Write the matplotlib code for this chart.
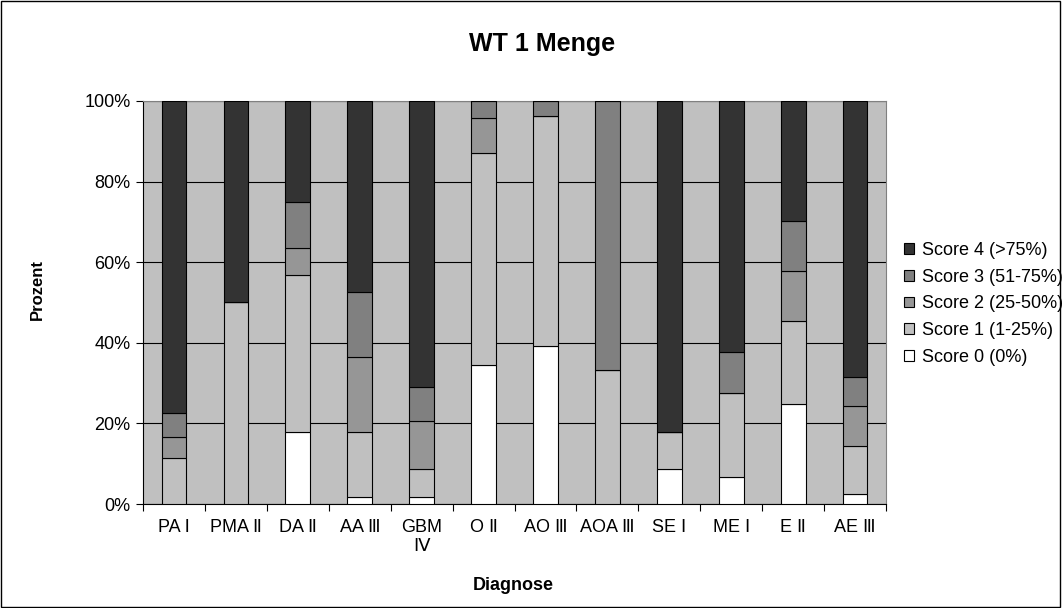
import matplotlib.pyplot as plt
from matplotlib.patches import Patch, Rectangle
import numpy as np

plt.rcParams['font.family'] = ['Liberation Sans', 'DejaVu Sans']

diagnosen = ['PA Ⅰ', 'PMA Ⅱ', 'DA Ⅱ', 'AA Ⅲ', 'GBM\nⅣ', 'O Ⅱ',
             'AO Ⅲ', 'AOA Ⅲ', 'SE Ⅰ', 'ME Ⅰ', 'E Ⅱ', 'AE Ⅲ']

# Prozent je Score
score0 = [0, 0, 17.9, 1.7, 1.8, 34.6, 39.1, 0, 8.8, 6.6, 24.8, 2.4]
score1 = [11.5, 50.0, 38.9, 16.2, 7.0, 52.5, 57.2, 33.2, 9.1, 21.0, 20.7, 12.1]
score2 = [5.1, 0, 6.8, 18.5, 11.9, 8.6, 0, 0, 0, 0, 12.4, 9.7]
score3 = [5.9, 0, 11.3, 16.3, 8.4, 4.3, 3.7, 66.8, 0, 10.2, 12.3, 7.4]
score4 = [77.5, 50.0, 25.1, 47.3, 70.9, 0, 0, 0, 82.1, 62.2, 29.8, 68.4]

namen = ['Score 0 (0%)', 'Score 1 (1-25%)', 'Score 2 (25-50%)',
         'Score 3 (51-75%)', 'Score 4 (>75%)']
farben = ['#FFFFFF', '#C0C0C0', '#969696', '#808080', '#333333']

fig = plt.figure(figsize=(10.62, 6.08), dpi=100)
ax = fig.add_axes([0.1347, 0.171, 0.6996, 0.663])
ax.set_facecolor('#C0C0C0')

x = np.arange(len(diagnosen))
bottom = np.zeros(len(diagnosen))
for werte, farbe in zip([score0, score1, score2, score3, score4], farben):
    ax.bar(x, werte, 0.4, bottom=bottom, color=farbe, edgecolor='black',
           linewidth=0.8, zorder=3)
    bottom += np.array(werte)

ax.set_xlim(-0.5, len(diagnosen) - 0.5)
ax.set_ylim(0, 100)
ax.set_yticks([0, 20, 40, 60, 80, 100])
ax.set_yticklabels(['0%', '20%', '40%', '60%', '80%', '100%'], fontsize=13)
ax.yaxis.grid(True, color='black', linewidth=0.8, zorder=1)
ax.set_axisbelow(True)

ax.set_xticks(x)
ax.set_xticklabels(diagnosen, fontsize=13, linespacing=1.1)
ax.tick_params(axis='x', length=0, pad=11)
ax.set_xticks(np.arange(-0.5, len(diagnosen)), minor=True)
ax.tick_params(axis='x', which='minor', length=5, width=0.8)
ax.tick_params(axis='y', length=5, width=0.8, pad=4)

ax.spines['top'].set_color('#808080')
ax.spines['right'].set_color('#808080')

fig.text(542 / 1062, 1 - 51 / 608, 'WT 1 Menge', fontsize=18,
         fontweight='bold', ha='center', va='baseline')
fig.text(513 / 1062, 1 - 585 / 608, 'Diagnose', fontsize=13,
         fontweight='bold', ha='center', va='center')
fig.text(37 / 1062, 1 - 290 / 608, 'Prozent', fontsize=12,
         fontweight='bold', ha='center', va='center', rotation=90)

handles = [Patch(facecolor=f, edgecolor='black', linewidth=0.8)
           for f in farben[::-1]]
fig.legend(handles, namen[::-1], loc='upper left',
           bbox_to_anchor=(0.8427, 0.617), frameon=False, fontsize=13,
           borderpad=0, handlelength=0.55, handleheight=0.55,
           handletextpad=0.45, labelspacing=0.54)

fig.patches.append(Rectangle((0.001, 0.002), 0.997, 0.996, fill=False,
                             edgecolor='black', linewidth=1,
                             transform=fig.transFigure))

fig.savefig('out.png', dpi=100)
